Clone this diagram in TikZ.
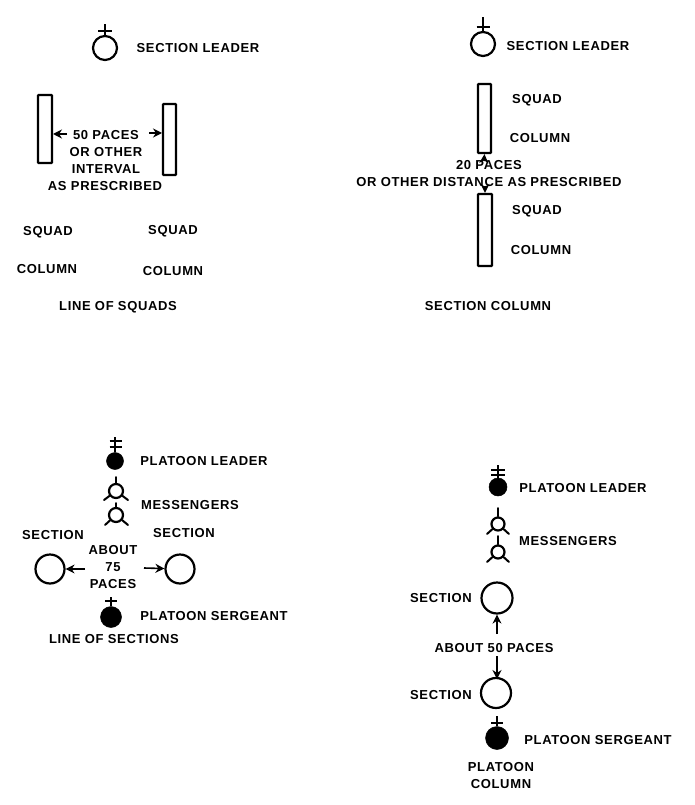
\documentclass[tikz,border=0pt]{standalone}
\usepackage{fontspec}
\setmainfont{Liberation Sans}[LetterSpace=5]
\usetikzlibrary{arrows.meta}
\tikzset{
  x=1pt,y=-1pt,
  lbl/.style={font=\bfseries\fontsize{13}{15}\selectfont,text=black,inner sep=0pt,anchor=center,yshift=-0.8pt},
  ring/.style={circle,draw=black,line width=2.2pt,fill=white,inner sep=0pt},
  dotf/.style={circle,fill=black,draw=black,line width=0.5pt,inner sep=0pt},
  bar/.style={rectangle,draw=black,line width=2.2pt,fill=white,inner sep=0pt,rounded corners=0.6pt},
  staff/.style={draw=black,line width=2pt},
  spike/.style={draw=black,line width=2pt,line cap=round},
  arr/.style={draw=black,line width=1.6pt,-{Stealth[length=9pt,width=9pt]}},
}
\begin{document}
\begin{tikzpicture}
\useasboundingbox (0,0) rectangle (694,805);
% --- Line of squads
\node[ring,minimum size=24pt] (sl1) at (105,48) {};
\coordinate (sl1t) at (105,24);
\coordinate (sl1a) at (98,31.5);\coordinate (sl1b) at (112,31.5);
\draw[staff] (sl1) -- (sl1t);\draw[staff] (sl1a) -- (sl1b);
\node[lbl] (sl1l) at (198,47) {SECTION LEADER};
\node[bar,minimum width=14pt,minimum height=68pt] (r1) at (45,129) {};
\node[bar,minimum width=13pt,minimum height=71pt] (r2) at (169.5,139.5) {};
\node[lbl] (t1) at (106,134) {50 PACES};
\node[lbl] (t2) at (106,151) {OR OTHER};
\node[lbl] (t3) at (106,168) {INTERVAL};
\node[lbl] (t4) at (105,185) {AS PRESCRIBED};
\coordinate (a1) at (67,134);\coordinate (a1e) at (53,134);
\coordinate (a2) at (149,133);\coordinate (a2e) at (162,133);
\draw[arr] (a1) -- (a1e);
\draw[arr] (a2) -- (a2e);
\node[lbl] (sq1) at (48,231) {SQUAD};
\node[lbl] (co1) at (47,268) {COLUMN};
\node[lbl] (sq2) at (173,230) {SQUAD};
\node[lbl] (co2) at (173,270) {COLUMN};
\node[lbl] (los) at (118,306) {LINE OF SQUADS};
% --- Section column
\node[ring,minimum size=24pt] (sl2) at (483,44) {};
\coordinate (sl2t) at (483,17);
\coordinate (sl2a) at (476.5,27);\coordinate (sl2b) at (490,27);
\draw[staff] (sl2) -- (sl2t);\draw[staff] (sl2a) -- (sl2b);
\node[lbl] (sl2l) at (568,45) {SECTION LEADER};
\node[bar,minimum width=13pt,minimum height=69pt] (r3) at (484.5,118.5) {};
\node[bar,minimum width=14pt,minimum height=72pt] (r4) at (485,230) {};
\node[lbl] (sq3) at (537,99) {SQUAD};
\node[lbl] (co3) at (540,137) {COLUMN};
\node[lbl] (sq4) at (537,210) {SQUAD};
\node[lbl] (co4) at (541,249) {COLUMN};
\coordinate (a3) at (484,161);\coordinate (a4) at (485,186);
\draw[arr] (a3) -- (r3.south);
\draw[arr] (a4) -- (r4.north);
\node[lbl] (d1) at (489,164) {20 PACES};
\node[lbl] (d2) at (489,181) {OR OTHER DISTANCE AS PRESCRIBED};
\node[lbl] (sc) at (488,305) {SECTION COLUMN};
% --- Line of sections
\node[dotf,minimum size=17pt] (pl1) at (115,461) {};
\coordinate (pl1t) at (115,437);
\coordinate (pl1a) at (109.5,441);\coordinate (pl1b) at (122,441);
\coordinate (pl1c) at (109.5,447);\coordinate (pl1d) at (122,447);
\draw[staff] (pl1) -- (pl1t);\draw[staff] (pl1a) -- (pl1b);\draw[staff] (pl1c) -- (pl1d);
\node[lbl] (pl1l) at (204,460) {PLATOON LEADER};
\node[ring,minimum size=14pt] (m1) at (116,491) {};
\coordinate (m1t) at (116,477);\coordinate (m1l) at (104,500);\coordinate (m1r) at (128,500);
\draw[spike] (m1) -- (m1t);\draw[spike] (m1) -- (m1l);\draw[spike] (m1) -- (m1r);
\node[ring,minimum size=14pt] (m2) at (116,515) {};
\coordinate (m2t) at (116,503);\coordinate (m2l) at (105,525);\coordinate (m2r) at (128,525);
\draw[spike] (m2) -- (m2t);\draw[spike] (m2) -- (m2l);\draw[spike] (m2) -- (m2r);
\node[lbl] (msg1) at (190,504) {MESSENGERS};
\node[lbl] (se1) at (53,534) {SECTION};
\node[lbl] (se2) at (184,532) {SECTION};
\node[lbl] (ab1) at (113,549) {ABOUT};
\node[lbl] (ab2) at (113,566) {75};
\node[lbl] (ab3) at (113,583) {PACES};
\node[ring,minimum size=29pt] (c1) at (50,569) {};
\node[ring,minimum size=29pt] (c2) at (180,569) {};
\coordinate (a5) at (85,569);\coordinate (a6) at (144,568);
\draw[arr,line width=2.4pt] (a5) -- (c1);
\draw[arr] (a6) -- (c2);
\node[dotf,minimum size=21pt] (ps1) at (111,617) {};
\coordinate (ps1t) at (111,597);
\coordinate (ps1a) at (105,601);\coordinate (ps1b) at (117,601);
\draw[staff] (ps1) -- (ps1t);\draw[staff] (ps1a) -- (ps1b);
\node[lbl] (ps1l) at (214,615) {PLATOON SERGEANT};
\node[lbl] (los2) at (114,638) {LINE OF SECTIONS};
% --- Platoon column
\node[dotf,minimum size=18pt] (pl2) at (498,487) {};
\coordinate (pl2t) at (498,465);
\coordinate (pl2a) at (491,470);\coordinate (pl2b) at (505,470);
\coordinate (pl2c) at (491,475);\coordinate (pl2d) at (505,475);
\draw[staff] (pl2) -- (pl2t);\draw[staff] (pl2a) -- (pl2b);\draw[staff] (pl2c) -- (pl2d);
\node[lbl] (pl2l) at (583,487) {PLATOON LEADER};
\node[ring,minimum size=13pt] (m3) at (498,524) {};
\coordinate (m3t) at (498,508);\coordinate (m3l) at (487,534);\coordinate (m3r) at (509,534);
\draw[spike] (m3) -- (m3t);\draw[spike] (m3) -- (m3l);\draw[spike] (m3) -- (m3r);
\node[ring,minimum size=13pt] (m4) at (498,552) {};
\coordinate (m4t) at (498,536);\coordinate (m4l) at (487,562);\coordinate (m4r) at (509,562);
\draw[spike] (m4) -- (m4t);\draw[spike] (m4) -- (m4l);\draw[spike] (m4) -- (m4r);
\node[lbl] (msg2) at (568,540) {MESSENGERS};
\node[lbl] (se3) at (441,597) {SECTION};
\node[ring,minimum size=31pt] (c3) at (497,598) {};
\node[lbl] (ab4) at (494,647) {ABOUT 50 PACES};
\coordinate (a7) at (497,634);\coordinate (a8) at (497,656);
\coordinate (a8e) at (497,679);
\draw[arr] (a7) -- (c3);
\draw[arr] (a8) -- (a8e);
\node[lbl] (se4) at (441,694) {SECTION};
\node[ring,minimum size=30pt] (c4) at (496,693) {};
\node[dotf,minimum size=23pt] (ps2) at (497,738) {};
\coordinate (ps2t) at (497,716);
\coordinate (ps2a) at (491,722.5);\coordinate (ps2b) at (503,722.5);
\draw[staff] (ps2) -- (ps2t);\draw[staff] (ps2a) -- (ps2b);
\node[lbl] (ps2l) at (598,739) {PLATOON SERGEANT};
\node[lbl] (pc1) at (501,766) {PLATOON};
\node[lbl] (pc2) at (501,783) {COLUMN};
\end{tikzpicture}
\end{document}
